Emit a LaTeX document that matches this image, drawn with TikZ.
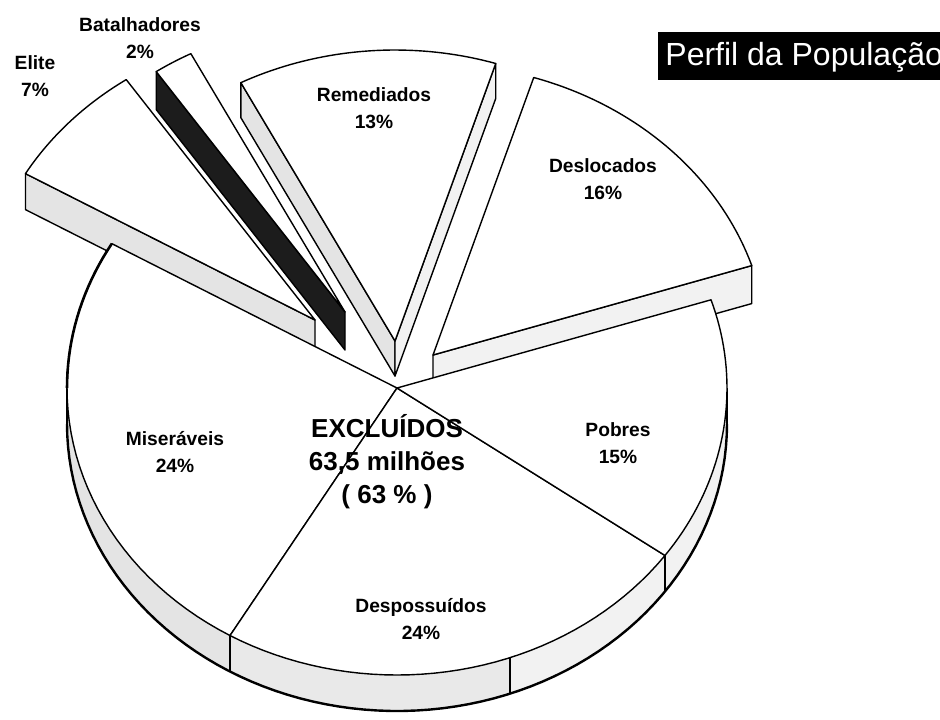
\documentclass[tikz,border=0pt]{standalone}
\usepackage{fontspec}
\setmainfont{Liberation Sans}
\usetikzlibrary{positioning}
\definecolor{sidegray}{HTML}{E4E4E4}
\definecolor{lightside}{HTML}{F2F2F2}
\definecolor{darkside}{HTML}{1C1C1C}

\tikzset{
  pieedge/.style={draw=black, line width=0.7pt, line join=round},
  topface/.style={pieedge, fill=white},
  slicelabel/.style={font=\bfseries\fontsize{9.6}{13.5}\selectfont, align=center, inner sep=0pt},
}

% top face: apex x, apex y, from, to, rx, ry
\newcommand{\slicetop}[6]{%
  \draw[topface] (#1,#2) -- plot[domain=#3:#4, samples=40] ({#1+#5*cos(\x)},{#2-#6*sin(\x)}) -- cycle;}
% radial side face: apex x, apex y, angle, rx, ry, depth, fill
\newcommand{\sliceside}[7]{%
  \draw[pieedge, fill=#7] (#1,#2) -- ({#1+#4*cos(#3)},{#2-#5*sin(#3)})
    -- ++(0,#6) -- (#1,{#2+#6}) -- cycle;}

\begin{document}
\begin{tikzpicture}[x=0.5pt,y=-0.5pt]
  \useasboundingbox (0,0) rectangle (940,719);
  \fill[white] (0,0) rectangle (940,719);

  % exploded slices
  \sliceside{395}{341}{117.4}{335}{291}{35}{sidegray}
  \sliceside{395}{341}{72.5}{335}{291}{35}{lightside}
  \slicetop{395}{341}{72.5}{117.4}{335}{291}
  \sliceside{345}{312}{124.3}{335}{291}{38}{darkside}
  \slicetop{345}{312}{117.4}{124.3}{335}{291}
  \sliceside{315}{320}{149.8}{335}{291}{36}{sidegray}
  \slicetop{315}{320}{124.3}{149.8}{335}{291}
  \sliceside{433}{355}{17.9}{335}{291}{38}{lightside}
  \slicetop{433}{355}{17.9}{72.5}{335}{291}

  % main pie, front side
  \fill[sidegray] plot[domain=180:239.6, samples=30] ({397+330*cos(\x)},{388-287*sin(\x)})
    -- plot[domain=239.6:180, samples=30] ({397+330*cos(\x)},{424-287*sin(\x)}) -- cycle;
  \fill[sidegray!80] plot[domain=239.6:290, samples=30] ({397+330*cos(\x)},{388-287*sin(\x)})
    -- plot[domain=290:239.6, samples=30] ({397+330*cos(\x)},{424-287*sin(\x)}) -- cycle;
  \fill[lightside] plot[domain=290:360, samples=30] ({397+330*cos(\x)},{388-287*sin(\x)})
    -- plot[domain=360:290, samples=30] ({397+330*cos(\x)},{424-287*sin(\x)}) -- cycle;
  \draw[line width=1.2pt] plot[domain=180:360, samples=80] ({397+330*cos(\x)},{424-287*sin(\x)});
  \draw[line width=1.2pt] (67,388) -- (67,424) (727,388) -- (727,424);
  \foreach \t in {239.6,290,324.3}
    \draw[pieedge] ({397+330*cos(\t)},{388-287*sin(\t)}) -- ++(0,36);

  % main pie, top faces
  \slicetop{397}{388}{149.8}{239.6}{330}{287}
  \slicetop{397}{388}{239.6}{324.3}{330}{287}
  \slicetop{397}{388}{324.3}{377.9}{330}{287}
  \draw[line width=1.3pt] plot[domain=149.8:180, samples=20] ({397+330*cos(\x)},{388-287*sin(\x)});

  % labels
  \node[slicelabel] (batalhadores) at (140,38) {Batalhadores\\2\%};
  \node[slicelabel] (elite) at (35,76) {Elite\\7\%};
  \node[slicelabel] (remediados) at (374,108) {Remediados\\13\%};
  \node[slicelabel] (deslocados) at (603,179) {Deslocados\\16\%};
  \node[slicelabel] (miseraveis) at (175,452) {Miseráveis\\24\%};
  \node[slicelabel] (despossuidos) at (421,619) {Despossuídos\\24\%};
  \node[slicelabel] (pobres) at (618,443) {Pobres\\15\%};
  \node[font=\bfseries\fontsize{13}{16.5}\selectfont, align=center, inner sep=0pt]
    (excluidos) at (387,462) {EXCLUÍDOS\\63,5 milhões\\( 63 \% )};

  % title
  \fill[black] (658,32) rectangle (940,80);
  \node[anchor=base west, text=white, font=\fontsize{16}{16}\selectfont, inner sep=0pt]
    (titulo) at (665,65) {Perfil da População};
\end{tikzpicture}
\end{document}
